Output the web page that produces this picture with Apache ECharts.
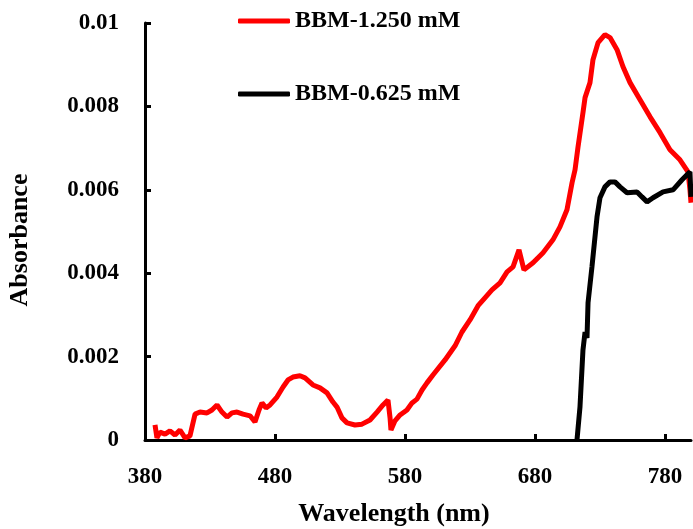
<!DOCTYPE html>
<html>
<head>
<meta charset="utf-8">
<script src="https://cdn.jsdelivr.net/npm/echarts@6/dist/echarts.min.js"></script>
<style>html,body{margin:0;padding:0;background:#fff}#c{width:693px;height:529px}</style>
</head>
<body>
<div id="c"></div>
<script>
// Wavelength (nm) and absorbance values
const redWave = [387.7,389.2,391.5,395.4,399.2,403.1,406.9,410.8,414.6,418.5,422.3,427.7,431.5,435.4,439.2,443.1,446.9,450.8,455.4,460.8,464.6,467.7,470.0,473.1,476.2,481.5,486.2,490.0,493.8,499.2,503.1,509.2,514.6,520.0,524.6,527.7,531.5,535.4,541.5,546.9,553.1,558.5,563.1,566.9,568.5,569.2,572.3,576.2,581.5,585.4,589.2,593.1,596.9,601.5,610.8,618.5,623.8,630.0,636.2,641.5,646.9,653.1,658.5,663.1,667.7,671.5,678.5,686.2,693.8,699.2,704.6,708.5,710.8,713.1,716.9,718.5,722.3,724.6,728.5,733.8,737.7,743.1,747.7,753.1,760.8,768.5,776.2,783.8,791.5,797.7,799.2,800.0];
const redAbs = [0.00036,0.00005,0.00019,0.00014,0.00022,0.00012,0.00024,0.00005,0.00010,0.00062,0.00067,0.00065,0.00072,0.00084,0.00067,0.00055,0.00065,0.00067,0.00062,0.00058,0.00043,0.00072,0.00089,0.00077,0.00084,0.00103,0.00127,0.00144,0.00151,0.00154,0.00149,0.00132,0.00125,0.00113,0.00091,0.00079,0.00053,0.00041,0.00036,0.00038,0.00048,0.00067,0.00084,0.00096,0.00053,0.00024,0.00046,0.00060,0.00072,0.00089,0.00098,0.00120,0.00137,0.00156,0.00192,0.00226,0.00259,0.00288,0.00322,0.00341,0.00360,0.00377,0.00403,0.00415,0.00456,0.00408,0.00425,0.00449,0.00480,0.00511,0.00552,0.00617,0.00648,0.00703,0.00785,0.00821,0.00857,0.00912,0.00953,0.00972,0.00965,0.00936,0.00895,0.00857,0.00816,0.00775,0.00737,0.00696,0.00672,0.00643,0.00600,0.00569];
const blackWave = [712.3,714.6,716.9,718.5,720.0,720.8,723.8,727.7,730.0,733.8,737.7,741.5,745.4,750.8,758.5,762.3,766.2,770.8,778.5,786.2,793.1,799.2,800.0];
const blackAbs = [0,0.00079,0.00216,0.00259,0.00245,0.00329,0.00415,0.00535,0.00581,0.00607,0.00619,0.00619,0.00607,0.00593,0.00595,0.00583,0.00571,0.00581,0.00595,0.00600,0.00624,0.00643,0.00583];
const seriesNames = ['BBM-1.250 mM','BBM-0.625 mM'];
const xTicks = {min:380, max:800, interval:100};
const yTicks = {min:0, max:0.01, interval:0.002};

const FONT = 'Liberation Serif';
const zip = (a,b) => a.map((v,i)=>[v,b[i]]);
const chart = echarts.init(document.getElementById('c'));
chart.setOption({
  animation:false,
  backgroundColor:'#fff',
  grid:{left:145, right:2, top:23, bottom:89, outerBoundsMode:'none', containLabel:false},
  legend:{
    orient:'vertical', left:233, top:4, itemGap:49,
    itemWidth:52, itemHeight:5, icon:'roundRect',
    textStyle:{fontFamily:FONT, fontWeight:'bold', fontSize:24, color:'#000', lineHeight:24},
    data:seriesNames
  },
  xAxis:{
    type:'value', min:xTicks.min, max:xTicks.max, interval:xTicks.interval,
    name:'Wavelength (nm)', nameLocation:'middle', nameGap:61,
    nameTextStyle:{fontFamily:FONT, fontWeight:'bold', fontSize:26, color:'#000', padding:[0,48,0,0]},
    axisLine:{lineStyle:{color:'#000', width:3}},
    axisTick:{inside:true, length:6, lineStyle:{color:'#000', width:3}},
    axisLabel:{fontFamily:FONT, fontWeight:'bold', fontSize:23, color:'#000', margin:26, showMaxLabel:false},
    splitLine:{show:false}
  },
  yAxis:{
    type:'value', min:yTicks.min, max:yTicks.max, interval:yTicks.interval,
    name:'Absorbance', nameLocation:'middle', nameGap:112,
    nameTextStyle:{fontFamily:FONT, fontWeight:'bold', fontSize:26, color:'#000', padding:[0,17,0,0]},
    axisLine:{lineStyle:{color:'#000', width:3}},
    axisTick:{inside:true, length:6, lineStyle:{color:'#000', width:3}},
    axisLabel:{fontFamily:FONT, fontWeight:'bold', fontSize:23, color:'#000', margin:26},
    splitLine:{show:false}
  },
  series:[
    {name:seriesNames[0], type:'line', data:zip(redWave,redAbs), showSymbol:false, symbol:'none',
     lineStyle:{color:'#ff0000', width:5}, itemStyle:{color:'#ff0000'}, z:2},
    {name:seriesNames[1], type:'line', data:zip(blackWave,blackAbs), showSymbol:false, symbol:'none',
     lineStyle:{color:'#000', width:5}, itemStyle:{color:'#000'}, z:3}
  ]
});
</script>
</body>
</html>
